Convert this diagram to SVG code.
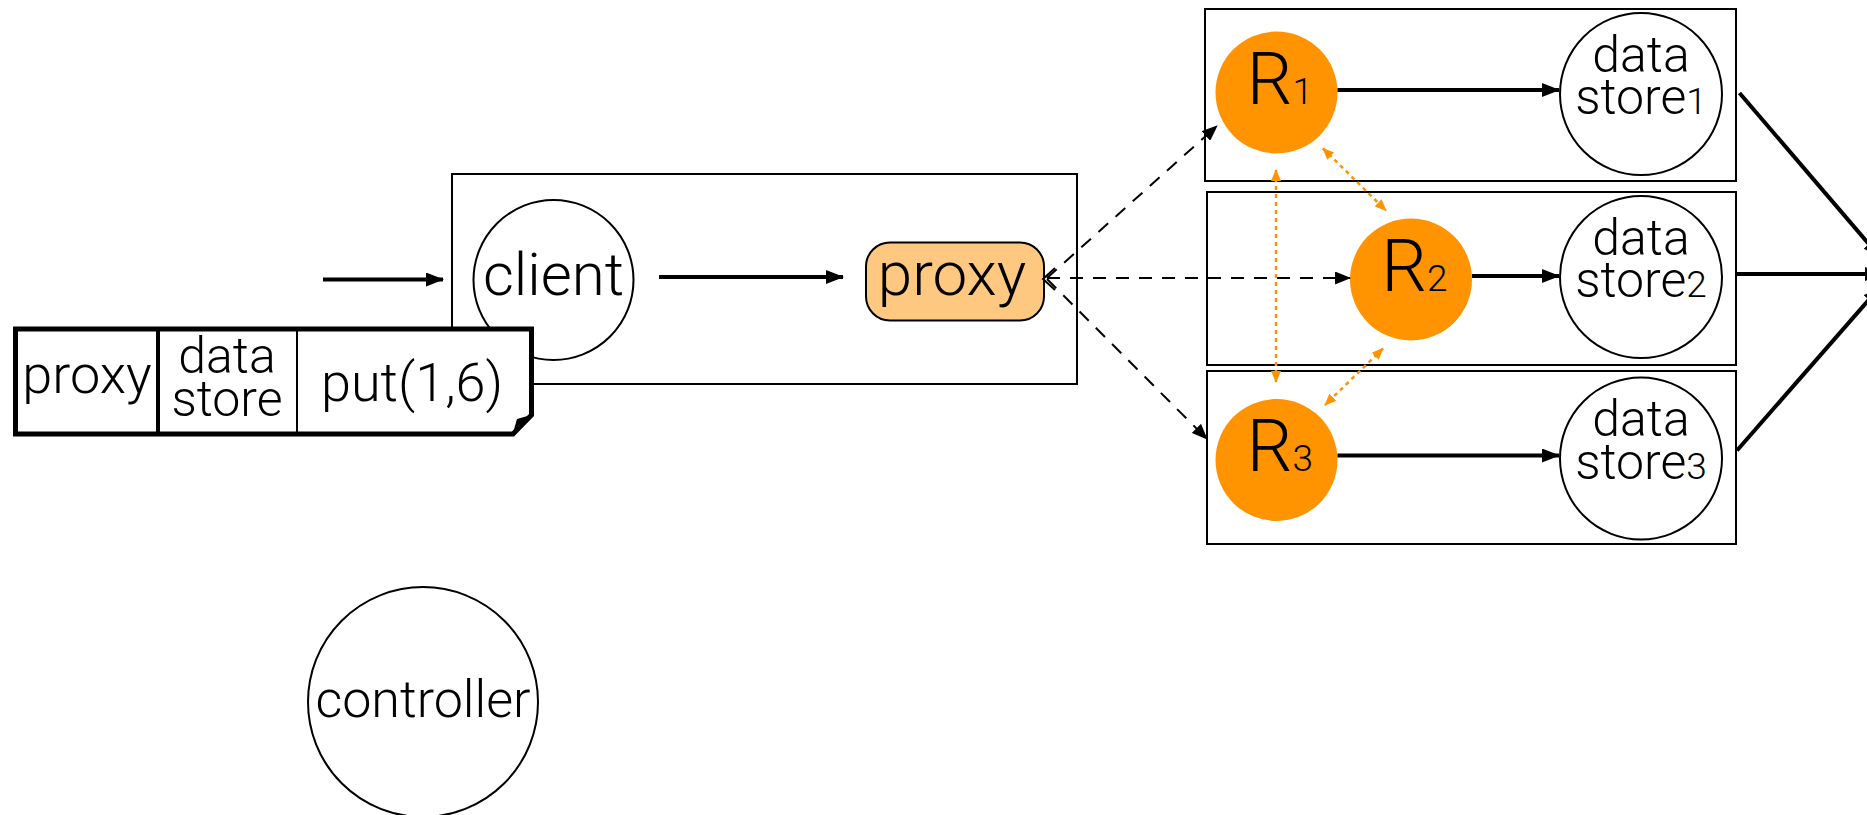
<svg xmlns="http://www.w3.org/2000/svg" width="1867" height="815" viewBox="0 0 1867 815">
  <style>
    .lbl { font-family: Roboto, "Liberation Sans", sans-serif; font-weight: 300; fill: #000; }
    .box { fill: none; stroke: #000; stroke-width: 2; }
    .ring { fill: #fff; stroke: #000; stroke-width: 2; }
    .rep { fill: #FF9300; }
    .solid { fill: none; stroke: #000; stroke-width: 4; marker-end: url(#headBig); }
    .dash { fill: none; stroke: #000; stroke-width: 2; stroke-dasharray: 13 10; marker-end: url(#headDash); }
    .sync { fill: none; stroke: #FF9300; stroke-width: 2.5; stroke-dasharray: 4 4; marker-start: url(#headSync); marker-end: url(#headSync); }
  </style>
  <defs>
    <marker id="headBig" markerUnits="userSpaceOnUse" markerWidth="18" markerHeight="14" refX="17" refY="7" orient="auto">
      <path d="M0,0 L18,7 L0,14 Z" fill="#000"/>
    </marker>
    <marker id="headDash" markerUnits="userSpaceOnUse" markerWidth="16" markerHeight="13" refX="15" refY="6.5" orient="auto">
      <path d="M0,0 L16,6.5 L0,13 Z" fill="#000"/>
    </marker>
    <marker id="headSync" markerUnits="userSpaceOnUse" markerWidth="12" markerHeight="10" refX="11" refY="5" orient="auto-start-reverse">
      <path d="M0,0 L12,5 L0,10 Z" fill="#FF9300"/>
    </marker>
  </defs>

  <rect width="1867" height="815" fill="#fff"/>

  <!-- host container around client and proxy -->
  <g id="host">
    <rect class="box" x="452" y="174" width="625" height="210"/>
  </g>

  <!-- replica rows -->
  <g id="row1"><rect class="box" x="1205" y="9" width="531" height="172"/></g>
  <g id="row2"><rect class="box" x="1207" y="192" width="529" height="173"/></g>
  <g id="row3"><rect class="box" x="1207" y="371" width="529" height="173"/></g>

  <g id="client">
    <circle class="ring" cx="553.5" cy="280" r="80"/>
    <text class="lbl" x="553.5" y="295" font-size="60" text-anchor="middle">client</text>
  </g>

  <g id="proxy">
    <rect x="866" y="242.5" width="178" height="78" rx="24" fill="#FFC880" stroke="#000" stroke-width="2"/>
    <text class="lbl" x="952" y="295" font-size="62" text-anchor="middle">proxy</text>
  </g>

  <!-- request packet with folded corner -->
  <g id="packet">
    <path d="M15.5,329 H531.5 V415 L513,434 H15.5 Z" fill="#fff" stroke="#000" stroke-width="5" stroke-linejoin="miter"/>
    <path d="M531,415 L517,419 L513,433 Z" fill="#000"/>
    <line x1="158" y1="329" x2="158" y2="434" stroke="#000" stroke-width="4"/>
    <line x1="297" y1="329" x2="297" y2="434" stroke="#000" stroke-width="2"/>
    <text class="lbl" x="87" y="393" font-size="54" text-anchor="middle">proxy</text>
    <text class="lbl" x="227" y="373" font-size="50" text-anchor="middle">data</text>
    <text class="lbl" x="227" y="416" font-size="50" text-anchor="middle">store</text>
    <text class="lbl" x="412" y="401" font-size="54" text-anchor="middle">put(1,6)</text>
  </g>

  <g id="R1">
    <circle class="rep" cx="1276.5" cy="92.5" r="61"/>
    <text class="lbl" x="1280" y="103.5" font-size="72" text-anchor="middle">R<tspan font-size="37">1</tspan></text>
  </g>
  <g id="R2">
    <circle class="rep" cx="1411" cy="279.5" r="61"/>
    <text class="lbl" x="1414.5" y="290.5" font-size="72" text-anchor="middle">R<tspan font-size="37">2</tspan></text>
  </g>
  <g id="R3">
    <circle class="rep" cx="1276.5" cy="460" r="61"/>
    <text class="lbl" x="1280" y="471" font-size="72" text-anchor="middle">R<tspan font-size="37">3</tspan></text>
  </g>

  <g id="store1">
    <circle class="ring" cx="1641" cy="94" r="81"/>
    <text class="lbl" x="1641" y="71.5" font-size="50" text-anchor="middle">data</text>
    <text class="lbl" x="1641" y="114" font-size="50" text-anchor="middle">store<tspan font-size="37">1</tspan></text>
  </g>
  <g id="store2">
    <circle class="ring" cx="1641" cy="277" r="81"/>
    <text class="lbl" x="1641" y="254.5" font-size="50" text-anchor="middle">data</text>
    <text class="lbl" x="1641" y="297" font-size="50" text-anchor="middle">store<tspan font-size="37">2</tspan></text>
  </g>
  <g id="store3">
    <circle class="ring" cx="1641" cy="458.5" r="81"/>
    <text class="lbl" x="1641" y="436" font-size="50" text-anchor="middle">data</text>
    <text class="lbl" x="1641" y="478.5" font-size="50" text-anchor="middle">store<tspan font-size="37">3</tspan></text>
  </g>

  <g id="controller">
    <circle class="ring" cx="423" cy="702" r="115"/>
    <text class="lbl" x="423" y="716.5" font-size="52" text-anchor="middle">controller</text>
  </g>

  <g id="connectors">
    <!-- request flow -->
    <line class="solid" x1="323" y1="279.5" x2="443" y2="279.5"/>
    <line class="solid" x1="659" y1="277" x2="843" y2="277"/>

    <!-- proxy fan-out to replicas -->
    <line class="dash" x1="1047" y1="278" x2="1217" y2="126"/>
    <line class="dash" x1="1047" y1="278" x2="1350" y2="278"/>
    <line class="dash" x1="1047" y1="279" x2="1207" y2="439"/>
    <polyline points="1055,268 1043,279 1055,290" fill="none" stroke="#000" stroke-width="2"/>

    <!-- replica synchronisation -->
    <line class="sync" x1="1276" y1="170" x2="1276" y2="382"/>
    <line class="sync" x1="1323" y1="148.5" x2="1386" y2="210.5"/>
    <line class="sync" x1="1383" y1="348.5" x2="1325" y2="405"/>

    <!-- replica to store -->
    <line class="solid" x1="1337.5" y1="90" x2="1559" y2="90"/>
    <line class="solid" x1="1472" y1="276" x2="1559" y2="276"/>
    <line class="solid" x1="1337.5" y1="455.5" x2="1559" y2="455.5"/>

    <!-- stores to downstream -->
    <line class="solid" x1="1739.5" y1="93" x2="1880" y2="257"/>
    <line class="solid" x1="1737" y1="274" x2="1882" y2="274"/>
    <line class="solid" x1="1737" y1="450.5" x2="1880" y2="287"/>
  </g>
</svg>
